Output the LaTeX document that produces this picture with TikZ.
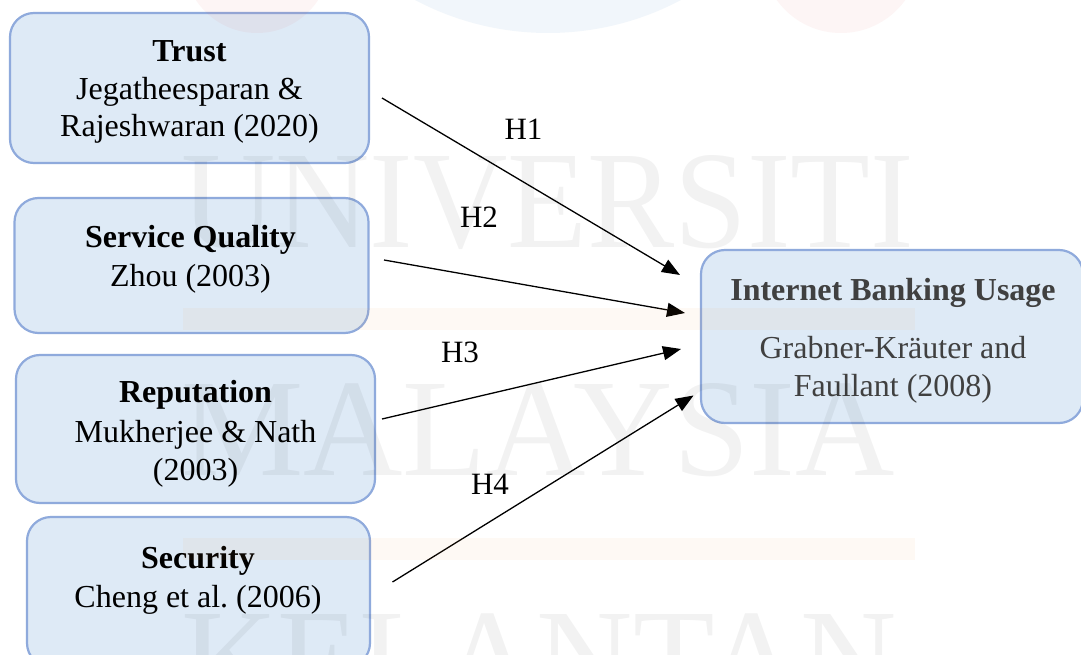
\documentclass[tikz,border=0pt]{standalone}
\usepackage{fontspec}
\setmainfont{Liberation Serif}
\usetikzlibrary{arrows.meta}

\definecolor{boxfill}{HTML}{DEEAF6}
\definecolor{boxline}{HTML}{8FAADC}
\definecolor{darktext}{HTML}{404040}
\definecolor{wmblue}{RGB}{70,130,200}
\definecolor{wmred}{RGB}{230,60,60}
\definecolor{wmorange}{RGB}{245,140,40}

\begin{document}
\begin{tikzpicture}[x=1pt,y=-1pt,
  box/.style={draw=boxline, fill=boxfill, line width=2.2pt, rounded corners=24pt, inner sep=0pt},
  txt/.style={font=\fontsize{32}{37.5}\selectfont, anchor=base, inner sep=0pt, align=center},
  hyp/.style={font=\fontsize{31}{37}\selectfont, anchor=base, inner sep=0pt},
  link/.style={line width=1.3pt, -{Triangle[length=18pt,width=14pt]}},
  wmtext/.style={font=\fontsize{139}{139}\selectfont, anchor=base west, inner sep=0pt, text=black, text opacity=0.05},
]
\useasboundingbox[fill=white] (0,0) rectangle (1081,655);

% construct boxes
\node[box, minimum width=359pt, minimum height=150pt] (trust) at (189.5,88) {};
\node[box, minimum width=354pt, minimum height=135pt] (sq) at (191.5,265.5) {};
\node[box, minimum width=359pt, minimum height=148pt] (rep) at (195.5,429) {};
\node[box, minimum width=343pt, minimum height=150pt] (sec) at (198.5,592) {};
\node[box, minimum width=382pt, minimum height=173pt] (ibu) at (892,336.5) {};

% box texts (anchored at the baseline of the last line)
\node[txt] (trust-t) at (189.5,137) {\textbf{Trust}\\[0.5pt]Jegatheesparan \&\\Rajeshwaran (2020)};
\node[txt] (sq-t) at (190.5,286) {\textbf{Service Quality}\\[1.5pt]Zhou (2003)};
\node[txt] (rep-t) at (195.5,480) {\textbf{Reputation}\\[2.5pt]Mukherjee \& Nath\\(2003)};
\node[txt] (sec-t) at (198,607) {\textbf{Security}\\[1.5pt]Cheng et al.\ (2006)};
\node[txt, text=darktext] (ibu-t) at (893,396) {\textbf{Internet Banking Usage}\\[20.5pt]Grabner-Kräuter and\\Faullant (2008)};

% hypothesis paths
\coordinate (s1) at (382,98);   \coordinate (e1) at (680,275);
\coordinate (s2) at (384,260);  \coordinate (e2) at (685,313);
\coordinate (s3) at (382,419);  \coordinate (e3) at (681,349);
\coordinate (s4) at (392.5,582);\coordinate (e4) at (693.5,395.5);
\draw[link] (s1) -- (e1);
\draw[link] (s2) -- (e2);
\draw[link] (s3) -- (e3);
\draw[link] (s4) -- (e4);

\node[hyp] (h1) at (523.5,140) {H1};
\node[hyp] (h2) at (479,227) {H2};
\node[hyp] (h3) at (460,362) {H3};
\node[hyp] (h4) at (490,494) {H4};

% faint background emblem and lettering
\fill[wmblue, opacity=0.07] (548,-251) circle[radius=284];
\fill[wmred, opacity=0.05] (257,-40) circle[radius=73];
\fill[wmred, opacity=0.05] (841,-46) circle[radius=79];
\fill[wmorange, opacity=0.05] (183,308) rectangle (915,330);
\fill[wmorange, opacity=0.05] (183,538) rectangle (915,560);
\node[wmtext] (wm1) at (181,247) {\scalebox{0.94}[1]{UNIVERSITI}};
\node[wmtext] (wm2) at (181,475) {\scalebox{0.99}[1]{MALAYSIA}};
\node[wmtext] (wm3) at (181,705) {\scalebox{0.96}[1]{KELANTAN}};
\end{tikzpicture}
\end{document}
